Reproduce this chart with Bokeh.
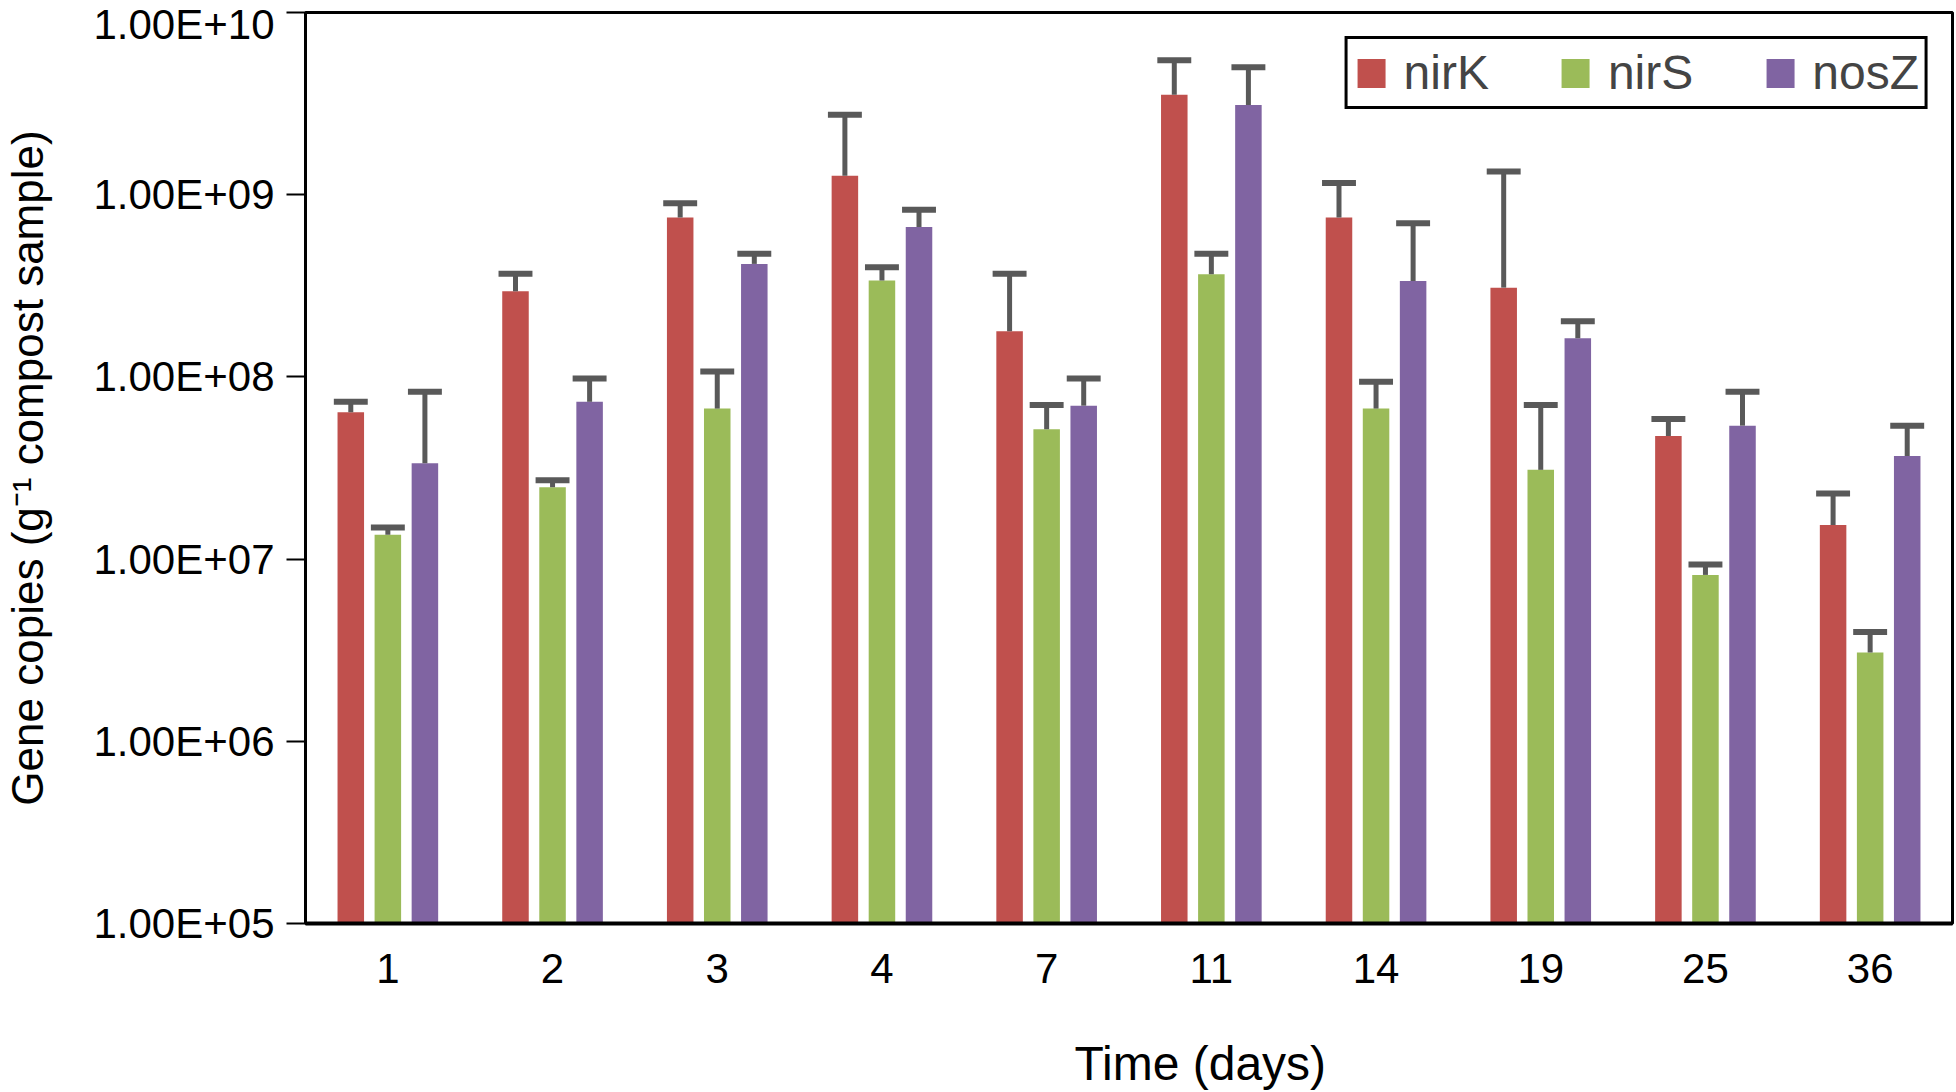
from bokeh.plotting import figure
from bokeh.models import Range1d, FactorRange, FixedTicker, CustomJSTickFormatter, ColumnDataSource, Title
from bokeh.transform import dodge
from bokeh.embed import file_html
from bokeh.resources import INLINE

# gene copies per g compost sample, mean and upper SD
days = ["1", "2", "3", "4", "7", "11", "14", "19", "25", "36"]
nirK = [6.4e7, 2.95e8, 7.5e8, 1.27e9, 1.78e8, 3.54e9, 7.5e8, 3.09e8, 4.74e7, 1.54e7]
nirK_sd = [0.9e7, 7.3e7, 1.48e8, 1.48e9, 1.9e8, 1.93e9, 4.1e8, 1.03e9, 1.14e7, 7.5e6]
nirS = [1.36e7, 2.48e7, 6.7e7, 3.38e8, 5.16e7, 3.66e8, 6.7e7, 3.09e7, 8.19e6, 3.07e6]
nirS_sd = [1.3e6, 2.3e6, 4.0e7, 6.2e7, 1.84e7, 1.08e8, 2.7e7, 3.91e7, 1.14e6, 9.1e5]
nosZ = [3.36e7, 7.3e7, 4.17e8, 6.65e8, 6.95e7, 3.11e9, 3.36e8, 1.63e8, 5.4e7, 3.68e7]
nosZ_sd = [4.94e7, 2.5e7, 5.7e7, 1.61e8, 2.85e7, 1.89e9, 3.61e8, 3.9e7, 2.9e7, 1.72e7]

y_ticks = [1e5, 1e6, 1e7, 1e8, 1e9, 1e10]

FONT = "Liberation Sans"

src = ColumnDataSource(data=dict(
    day=days,
    nirK=nirK, nirK_hi=[v + e for v, e in zip(nirK, nirK_sd)],
    nirS=nirS, nirS_hi=[v + e for v, e in zip(nirS, nirS_sd)],
    nosZ=nosZ, nosZ_hi=[v + e for v, e in zip(nosZ, nosZ_sd)],
))

p = figure(
    x_range=FactorRange(*days),
    y_range=Range1d(y_ticks[0], y_ticks[-1]),
    y_axis_type="log",
    width=1956,
    height=1092,
    min_border_left=300,
    min_border_right=4,
    min_border_top=12,
    min_border_bottom=169,
    output_backend="svg",
    toolbar_location=None,
    y_axis_label="Gene copies (g\u207b\u00b9 compost sample)",
)

series = [("nirK", "#C0504D", -0.225), ("nirS", "#9BBB59", 0.0), ("nosZ", "#8064A2", 0.225)]
bar_w = 0.161
cap_half = 0.103

for name, col, off in series:
    p.vbar(x=dodge("day", off, range=p.x_range), top=name, bottom=y_ticks[0], width=bar_w,
           source=src, fill_color=col, line_color=None, legend_label=name)

for name, col, off in series:
    # upper error bar only: stem plus cap
    p.segment(x0=dodge("day", off, range=p.x_range), y0=name,
              x1=dodge("day", off, range=p.x_range), y1=name + "_hi",
              source=src, line_color="#595959", line_width=5)
    p.segment(x0=dodge("day", off - cap_half, range=p.x_range), y0=name + "_hi",
              x1=dodge("day", off + cap_half, range=p.x_range), y1=name + "_hi",
              source=src, line_color="#595959", line_width=6)

# gap between the tick labels and the x title
p.add_layout(Title(text=" ", standoff=46, text_font_size="1px"), "below")
# x axis title sits right of centre in the original, so it goes in as a title below
p.add_layout(Title(text="Time (days)", align="left", offset=769, standoff=0,
                   text_font=FONT, text_font_size="48px", text_font_style="normal",
                   text_color="black"), "below")

p.xgrid.grid_line_color = None
p.ygrid.grid_line_color = None
p.outline_line_color = "black"
p.outline_line_width = 3
p.outline_line_alpha = 1

p.yaxis.ticker = FixedTicker(ticks=y_ticks, minor_ticks=[])
p.yaxis.formatter = CustomJSTickFormatter(code=r"""
const s = tick.toExponential(2).toUpperCase();
return s.replace(/E([+-])(\d)$/, (m, a, b) => 'E' + a + '0' + b);
""")
p.yaxis.major_tick_out = 19
p.yaxis.major_tick_in = 0
p.yaxis.major_tick_line_width = 2
p.yaxis.major_tick_line_color = "black"
p.yaxis.major_label_standoff = 12
p.yaxis.axis_line_width = 3
p.yaxis.axis_label_standoff = 38

p.xaxis.major_tick_line_color = None
p.xaxis.major_tick_out = 0
p.xaxis.major_tick_in = 0
p.xaxis.major_label_standoff = 30
p.xaxis.axis_line_width = 4

for ax in (p.xaxis, p.yaxis):
    ax.axis_line_color = "black"
    ax.major_label_text_font = FONT
    ax.major_label_text_font_size = "42px"
    ax.major_label_text_color = "black"
    ax.axis_label_text_font = FONT
    ax.axis_label_text_font_style = "normal"
    ax.axis_label_text_color = "black"
p.yaxis.axis_label_text_font_size = "44px"

p.legend.location = "top_right"
p.legend.orientation = "horizontal"
p.legend.margin = 24
p.legend.padding = 6
p.legend.spacing = 69
p.legend.label_standoff = 15
p.legend.glyph_width = 35
p.legend.glyph_height = 36
p.legend.label_text_font = FONT
p.legend.label_text_font_size = "48px"
p.legend.border_line_color = "black"
p.legend.border_line_alpha = 1
p.legend.border_line_width = 3
p.legend.background_fill_alpha = 1

open("out.html", "w").write(file_html(p, INLINE))
